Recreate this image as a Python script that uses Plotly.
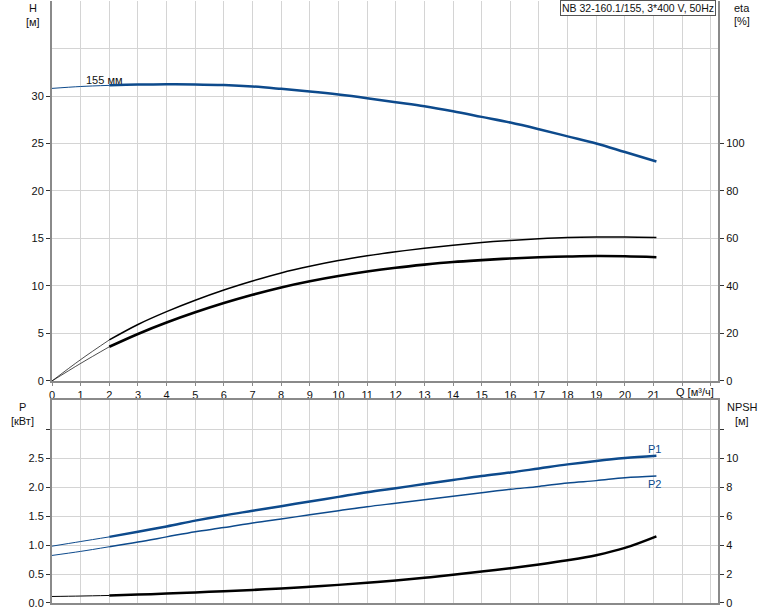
import plotly.graph_objects as go

# ---- data ----
q = [0, 1, 2, 3, 4, 5, 6, 7, 8, 9, 10, 11, 12, 13, 14, 15, 16, 17, 18, 19, 20, 21.1]
head = [30.8, 31.0, 31.12, 31.2, 31.23, 31.22, 31.15, 31.0, 30.75, 30.47, 30.15,
        29.77, 29.35, 28.93, 28.4, 27.8, 27.2, 26.5, 25.75, 25.0, 24.1, 23.1]
eta_upper = [0, 9.0, 17.3, 23.8, 29.2, 34.0, 38.3, 42.1, 45.5, 48.3, 50.7,
             52.7, 54.4, 55.9, 57.2, 58.3, 59.2, 59.9, 60.4, 60.6, 60.6, 60.4]
eta_lower = [0, 7.4, 14.4, 19.8, 24.6, 28.9, 32.8, 36.3, 39.4, 42.0, 44.2,
             46.1, 47.7, 49.0, 50.1, 50.9, 51.6, 52.1, 52.4, 52.6, 52.5, 52.1]
p1 = [0.98, 1.06, 1.14, 1.23, 1.32, 1.42, 1.51, 1.59, 1.67, 1.75, 1.83,
      1.91, 1.98, 2.05, 2.12, 2.19, 2.25, 2.32, 2.39, 2.45, 2.50, 2.54]
p2 = [0.82, 0.89, 0.97, 1.05, 1.14, 1.23, 1.30, 1.38, 1.45, 1.52, 1.59,
      1.66, 1.72, 1.78, 1.84, 1.90, 1.96, 2.01, 2.07, 2.11, 2.16, 2.19]
npsh = [0.45, 0.48, 0.52, 0.58, 0.65, 0.73, 0.81, 0.9, 1.0, 1.12, 1.25,
        1.39, 1.55, 1.74, 1.95, 2.17, 2.4, 2.66, 2.95, 3.3, 3.8, 4.6]

x_ticks = list(range(0, 24))
x_labels = [str(i) for i in range(0, 22)] + ["", ""]
h_ticks = [0, 5, 10, 15, 20, 25, 30]
eta_ticks = [0, 20, 40, 60, 80, 100]
p_ticks = [0, 0.5, 1.0, 1.5, 2.0, 2.5, 3.0]
p_labels = ["0.0", "0.5", "1.0", "1.5", "2.0", "2.5", ""]
npsh_ticks = [0, 2, 4, 6, 8, 10, 12]
npsh_labels = ["0", "2", "4", "6", "8", "10", ""]

title_text = "NB 32-160.1/155, 3*400 V, 50Hz"

BLUE = "#0d4a8c"
BLACK = "#000000"
GRID = "#d4d4d4"
AXIS = "#8a8a8a"
FONT = "Liberation Sans, Arial, sans-serif"

fig = go.Figure()


def add_curve(values, color, w_thin, w_thick, xa, ya):
    qa = [qq for qq in q if qq <= 2]
    va = [v for qq, v in zip(q, values) if qq <= 2]
    qb = [qq for qq in q if qq >= 2]
    vb = [v for qq, v in zip(q, values) if qq >= 2]
    fig.add_trace(go.Scatter(x=qa, y=va, mode="lines", xaxis=xa, yaxis=ya,
                             line=dict(color=color, width=w_thin, shape="spline"),
                             hoverinfo="skip", showlegend=False))
    fig.add_trace(go.Scatter(x=qb, y=vb, mode="lines", xaxis=xa, yaxis=ya,
                             line=dict(color=color, width=w_thick, shape="spline"),
                             hoverinfo="skip", showlegend=False))


add_curve(head, BLUE, 1.0, 2.5, "x", "y")
add_curve(eta_upper, BLACK, 0.7, 1.5, "x", "y2")
add_curve(eta_lower, BLACK, 0.7, 2.6, "x", "y2")
add_curve(p1, BLUE, 1.0, 2.5, "x2", "y3")
add_curve(p2, BLUE, 1.0, 1.5, "x2", "y3")
add_curve(npsh, BLACK, 1.0, 2.5, "x2", "y4")

TOP = [0.3688, 1.0]
BOT = [0.0, 0.3372]
XR = [0, 23.25]
tickfont = dict(family=FONT, size=11, color="#111111")

fig.update_layout(
    width=774, height=611,
    margin=dict(l=52, r=56, t=1, b=8),
    paper_bgcolor="white", plot_bgcolor="white",
    font=dict(family=FONT, size=11, color="#111111"),
    xaxis=dict(domain=[0, 1], anchor="y", range=XR, tickvals=x_ticks, ticktext=x_labels,
               showgrid=True, gridcolor=GRID, gridwidth=1, zeroline=False,
               showline=True, linecolor=AXIS, linewidth=2, ticks="outside", ticklen=3,
               tickcolor=AXIS, tickfont=tickfont),
    yaxis=dict(domain=TOP, anchor="x", range=[0, 40], tickvals=h_ticks,
               showgrid=True, gridcolor=GRID, gridwidth=1, zeroline=False,
               showline=True, linecolor=AXIS, linewidth=2, ticks="outside", ticklen=4,
               tickcolor="#333333", tickfont=tickfont),
    yaxis2=dict(overlaying="y", side="right", anchor="x", range=[0, 160], tickvals=eta_ticks,
                showgrid=False, zeroline=False, showline=True, linecolor=AXIS, linewidth=2,
                ticks="outside", ticklen=4, tickcolor="#333333", tickfont=tickfont),
    xaxis2=dict(domain=[0, 1], anchor="y3", range=XR, tickvals=x_ticks, showticklabels=False,
                showgrid=True, gridcolor=GRID, gridwidth=1, zeroline=False,
                showline=True, mirror=True, linecolor=AXIS, linewidth=2, ticks=""),
    yaxis3=dict(domain=BOT, anchor="x2", range=[0, 3.5], tickvals=p_ticks, ticktext=p_labels,
                showgrid=True, gridcolor=GRID, gridwidth=1, zeroline=False,
                showline=True, linecolor=AXIS, linewidth=2, ticks="outside", ticklen=4,
                tickcolor="#333333", tickfont=tickfont),
    yaxis4=dict(overlaying="y3", side="right", anchor="x2", range=[0, 14], tickvals=npsh_ticks,
                ticktext=npsh_labels, showgrid=False, zeroline=False,
                showline=True, linecolor=AXIS, linewidth=2, ticks="outside", ticklen=4,
                tickcolor="#333333", tickfont=tickfont),
)

# unlabeled top gridline of the head panel
fig.add_shape(type="line", xref="x", yref="y", x0=XR[0], x1=XR[1], y0=35, y1=35,
              line=dict(color=GRID, width=1), layer="below")


def px_x(px):
    return (px - 52) / 666.0


def px_y(py):
    return (603 - py) / 602.0


def label(text, px, py, xanchor="center", size=11, color="#111111"):
    fig.add_annotation(text=text, xref="paper", yref="paper", x=px_x(px), y=px_y(py),
                       xanchor=xanchor, yanchor="middle", showarrow=False,
                       font=dict(family=FONT, size=size, color=color))


label("H", 33, 8)
label("[м]", 33, 22)
label("eta", 742, 8)
label("[%]", 742, 21)
label("P", 22, 407)
label("[кВт]", 22, 421)
label("NPSH", 742, 407)
label("[м]", 742, 421)
label("Q [м³/ч]", 695, 392)

fig.add_annotation(text=title_text, xref="paper", yref="paper", x=px_x(716), y=px_y(0),
                   xanchor="right", yanchor="top", showarrow=False,
                   font=dict(family=FONT, size=10.5, color="#111111"),
                   bgcolor="white", bordercolor="#555555", borderwidth=1, borderpad=1)

fig.add_annotation(text="155 мм", xref="x", yref="y", x=1.85, y=31.7, showarrow=False,
                   xanchor="center", yanchor="middle",
                   font=dict(family=FONT, size=11, color="#111111"))
fig.add_annotation(text="P1", xref="x2", yref="y3", x=21.05, y=2.66, showarrow=False,
                   xanchor="center", yanchor="middle",
                   font=dict(family=FONT, size=11, color=BLUE))
fig.add_annotation(text="P2", xref="x2", yref="y3", x=21.05, y=2.05, showarrow=False,
                   xanchor="center", yanchor="middle",
                   font=dict(family=FONT, size=11, color=BLUE))

fig.write_html("out.html", config={"displayModeBar": False},
               post_script="document.body.style.margin='0';document.body.style.padding='0';")
